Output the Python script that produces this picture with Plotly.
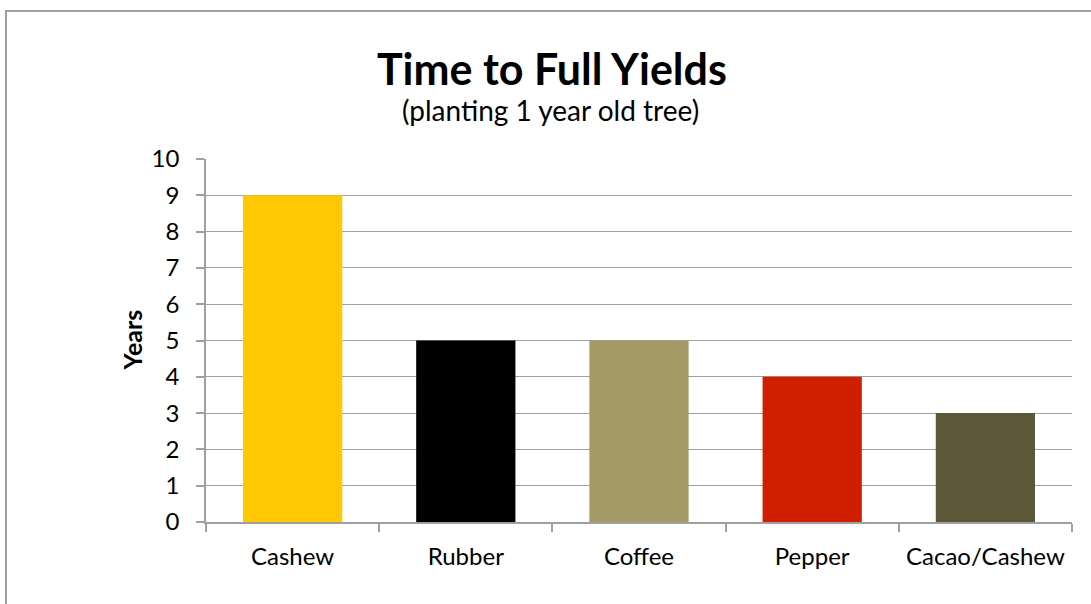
import plotly.graph_objects as go

categories = ["Cashew", "Rubber", "Coffee", "Pepper", "Cacao/Cashew"]
years = [9, 5, 5, 4, 3]
bar_colors = ["#FFC800", "#000000", "#A39A66", "#D01E00", "#5C5738"]
y_ticks = list(range(0, 11))

W, H = 1091, 604
ML, MR, MT, MB = 206, 19, 159, 82
PW, PH = W - ML - MR, H - MT - MB

def px_x(px):
    return (px - ML) / PW

def px_y(py):
    return (H - MB - py) / PH

FONT = "Lato"
GRID = "#A0A0A0"

fig = go.Figure(go.Bar(
    x=categories, y=years, marker=dict(color=bar_colors, line=dict(width=0)),
))

fig.update_layout(
    width=W, height=H,
    margin=dict(l=ML, r=MR, t=MT, b=MB),
    paper_bgcolor="white", plot_bgcolor="white",
    bargap=0.427,
    showlegend=False,
    font=dict(family=FONT, color="black"),
)

fig.update_xaxes(
    showgrid=False, showline=True, linecolor=GRID, linewidth=1.5,
    ticks="outside", tickson="boundaries", ticklen=8, tickcolor=GRID, tickwidth=1.5,
    tickfont=dict(size=24, family=FONT, color="black"),
    ticklabelstandoff=12,
)
fig.update_yaxes(
    range=[0, 10], tickvals=y_ticks, showgrid=True, gridcolor=GRID, gridwidth=1.3,
    showline=True, linecolor=GRID, linewidth=1.5,
    ticks="outside", ticklen=8, tickcolor=GRID, tickwidth=1.5,
    tickfont=dict(size=24, family=FONT, color="black"),
    ticklabelstandoff=12, zeroline=False,
)

fig.add_annotation(
    text="<b>Time to Full Yields</b>", xref="paper", yref="paper",
    x=px_x(552), y=px_y(68), xanchor="center", yanchor="middle",
    showarrow=False, font=dict(size=43, family=FONT, color="black"),
)
fig.add_annotation(
    text="(planting 1 year old tree)", xref="paper", yref="paper",
    x=px_x(550), y=px_y(110), xanchor="center", yanchor="middle",
    showarrow=False, font=dict(size=28, family=FONT, color="black"),
)
fig.add_annotation(
    text="<b>Years</b>", xref="paper", yref="paper",
    x=px_x(131), y=0.5, xanchor="center", yanchor="middle", textangle=-90,
    showarrow=False, font=dict(size=25, family=FONT, color="black"),
)

fig.add_shape(
    type="rect", xref="paper", yref="paper",
    x0=px_x(6), x1=px_x(1097), y0=px_y(612), y1=px_y(11),
    line=dict(color="#A0A0A0", width=2), fillcolor="rgba(0,0,0,0)", layer="below",
)

fig.write_html(
    "out.html",
    config={"displayModeBar": False},
    post_script="document.body.style.margin='0';",
)
